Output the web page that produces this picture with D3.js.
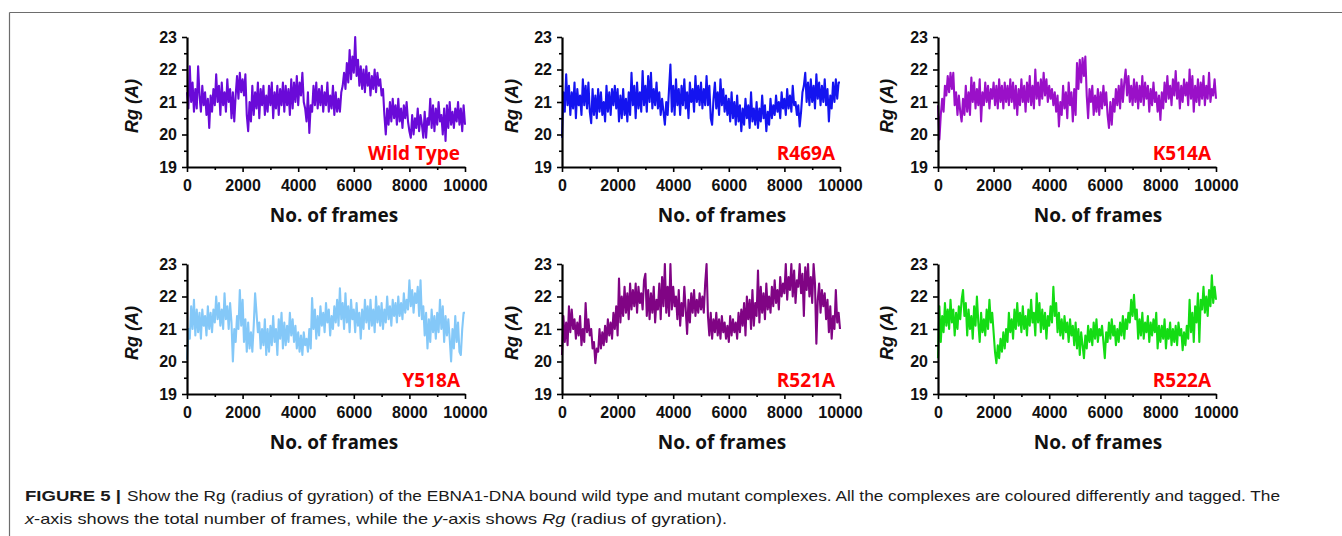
<!DOCTYPE html>
<html>
<head>
<meta charset="utf-8">
<script src="https://cdn.jsdelivr.net/npm/d3@7"></script>
<style>
  body { margin: 0; background: #fff; }
  svg { display: block; }
</style>
</head>
<body>
<script>
// frames sampled every 50 (0..10000)
var frameStep = 50;
var frames = d3.range(0, 10001, frameStep);

var yTicks = [19, 20, 21, 22, 23];
var yMinor = [19.5, 20.5, 21.5, 22.5];
var xTicks = [0, 2000, 4000, 6000, 8000, 10000];
var xMinor = [1000, 3000, 5000, 7000, 9000];

var panelNames = ['Wild Type', 'R469A', 'K514A', 'Y518A', 'R521A', 'R522A'];
var panelColors = ['#6a0ad8', '#1414f0', '#9a10c8', '#84c8f8', '#800484', '#14dc14'];

// Rg values (A)
var rgWild = [
  21.3, 20.8, 22.1, 21.0, 21.6, 20.7, 21.4, 20.8, 22.1, 21.2,
  20.7, 21.5, 20.9, 21.3, 20.6, 21.1, 20.2, 21.2, 20.7, 21.4,
  20.9, 21.85, 21.0, 21.5, 20.6, 21.6, 20.9, 21.3, 20.7, 21.7,
  21.0, 21.4, 20.5, 21.3, 20.4, 21.2, 21.8, 21.1, 21.9, 21.3,
  21.7, 21.2, 21.85, 20.6, 20.1, 21.0, 20.4, 21.5, 20.6, 21.3,
  20.8, 21.6, 20.5, 21.4, 20.9, 21.5, 20.6, 21.2, 20.7, 21.5,
  20.9, 21.6, 20.5, 21.3, 20.8, 21.5, 20.6, 21.4, 20.9, 21.6,
  20.7, 21.5, 20.9, 21.4, 20.6, 21.7, 20.8, 21.6, 21.0, 21.8,
  20.9, 21.6, 21.2, 21.9, 21.0, 20.8, 20.4, 21.3, 20.05, 20.9,
  20.7, 21.5, 20.9, 21.6, 20.8, 21.4, 20.9, 21.5, 20.7, 21.3,
  20.9, 21.6, 20.7, 21.2, 20.8, 21.5, 20.6, 21.3, 20.7, 21.1,
  20.7, 21.3, 21.5, 21.9, 21.4, 22.2, 21.6, 22.6, 21.7, 22.4,
  21.9, 23.0, 21.8, 22.3, 21.5, 22.1, 21.4, 22.0, 21.3, 22.1,
  21.5, 21.9, 21.2, 21.8, 21.4, 22.0, 21.3, 21.9, 21.5, 21.7,
  21.2, 21.4, 20.6, 20.0, 20.8, 20.3, 21.0, 20.4, 21.1, 20.5,
  20.9, 20.3, 21.1, 20.4, 20.8, 20.2, 20.9, 20.5, 21.0, 20.4,
  20.1, 19.9, 20.6, 20.0, 20.5, 20.2, 20.8, 20.1, 20.6, 20.3,
  19.9, 20.7, 19.9, 20.5, 20.3, 21.1, 20.2, 20.9, 20.1, 20.8,
  20.3, 21.0, 20.4, 20.6, 20.0, 20.8, 19.8, 20.9, 20.2, 21.0,
  20.3, 20.7, 20.2, 20.8, 20.4, 21.0, 20.3, 20.8, 20.1, 20.9,
  20.3
];
var rgR469A = [
  19.9, 21.3, 20.7, 21.85, 20.9, 21.5, 20.6, 21.3, 20.8, 21.6,
  20.5, 21.4, 20.9, 21.2, 20.6, 21.7, 20.9, 21.5, 20.8, 21.6,
  20.7, 20.35, 21.4, 20.6, 21.2, 20.5, 21.4, 20.7, 21.3, 20.6,
  21.0, 20.4, 21.5, 20.7, 21.3, 20.6, 21.4, 20.9, 21.5, 20.8,
  21.4, 20.4, 21.2, 20.5, 21.4, 20.6, 21.1, 20.4, 21.3, 20.6,
  21.9, 20.9, 21.5, 20.5, 21.6, 20.8, 21.3, 20.7, 21.95, 20.9,
  21.5, 20.7, 21.8, 21.0, 21.9, 20.8, 21.4, 20.9, 21.6, 20.8,
  21.3, 20.6, 21.1, 20.7, 20.3, 21.0, 20.6, 21.4, 22.15, 20.7,
  21.5, 20.6, 21.7, 20.9, 21.4, 20.6, 21.5, 20.9, 21.7, 20.8,
  21.3, 20.5, 21.6, 21.0, 21.4, 20.7, 21.8, 21.0, 21.5, 20.9,
  21.6, 20.8, 21.4, 20.9, 21.8, 20.9, 21.5, 20.5, 20.3, 21.1,
  21.6, 20.8, 21.3, 20.6, 21.7, 20.9, 21.4, 20.7, 21.2, 20.6,
  21.1, 20.4, 21.3, 20.5, 21.0, 20.3, 21.2, 20.4, 20.9, 20.1,
  20.8, 20.3, 21.1, 20.5, 20.9, 20.2, 21.3, 20.4, 20.8, 20.3,
  21.0, 20.2, 20.8, 20.4, 21.2, 20.5, 20.9, 20.1, 20.7, 20.3,
  21.1, 20.5, 20.9, 20.6, 21.2, 20.7, 21.0, 20.5, 21.3, 20.8,
  21.1, 20.6, 21.4, 20.8, 21.2, 20.7, 21.5, 20.9, 21.0, 20.6,
  20.9, 20.25, 20.7, 21.3, 21.5, 21.9, 21.0, 21.6, 20.9, 21.7,
  21.0, 21.5, 20.8, 21.85, 21.1, 21.6, 20.9, 21.5, 21.0, 21.7,
  20.9, 21.4, 20.4, 21.2, 20.8, 21.6, 21.0, 21.7, 21.1, 21.6,
  21.6
];
var rgK514A = [
  20.9, 19.85, 20.6, 21.1, 20.7, 21.5, 21.2, 21.8, 21.3, 21.9,
  21.4, 21.9, 20.9, 21.3, 20.6, 21.2, 20.7, 20.4, 21.1, 20.6,
  21.5, 20.7, 21.3, 20.6, 21.75, 21.0, 21.6, 20.8, 21.4, 20.9,
  21.7, 20.4, 21.3, 20.9, 21.6, 21.0, 21.5, 20.8, 21.4, 21.1,
  21.6, 20.9, 21.5, 20.8, 21.7, 21.0, 21.5, 20.8, 21.6, 21.0,
  21.5, 20.9, 21.7, 21.0, 21.6, 20.8, 21.5, 20.6, 21.4, 20.9,
  21.7, 21.0, 21.5, 20.7, 21.6, 21.0, 21.8, 20.9, 21.5, 20.8,
  22.0, 21.1, 21.6, 20.9, 21.7, 21.1, 21.9, 21.2, 21.7, 21.0,
  21.5, 21.1, 21.4, 20.9, 21.3, 20.7, 21.2, 20.25, 21.0, 20.6,
  21.5, 20.8, 21.3, 20.5, 21.6, 20.9, 21.3, 20.4, 21.4, 20.6,
  22.2, 21.4, 22.3, 21.6, 22.35, 21.8, 22.4, 21.2, 20.5, 21.4,
  21.0, 21.5, 20.6, 21.2, 20.7, 21.4, 20.6, 21.3, 20.8, 21.5,
  20.9, 21.3, 20.6, 20.2, 21.0, 20.3, 21.1, 20.7, 21.4, 20.9,
  21.5, 20.8, 21.7, 21.0, 21.6, 22.0, 21.2, 21.8, 21.0, 21.5,
  20.9, 21.7, 21.0, 21.6, 20.8, 21.5, 21.0, 21.8, 20.9, 21.6,
  21.1, 21.5, 20.7, 21.4, 20.9, 21.6, 21.0, 21.3, 20.7, 21.2,
  20.45, 21.3, 20.8, 21.6, 21.0, 21.8, 21.1, 21.5, 20.9, 21.7,
  21.2, 21.95, 21.1, 21.6, 20.8, 21.5, 21.0, 21.7, 21.2, 21.6,
  20.9, 22.0, 21.1, 21.8, 20.7, 21.5, 21.0, 21.7, 20.9, 21.6,
  21.1, 21.8, 20.9, 21.5, 21.1, 21.9, 21.0, 21.4, 21.2, 21.7,
  21.1
];
var rgY518A = [
  20.05, 21.0, 20.7, 21.7, 21.0, 21.9, 20.8, 21.6, 20.9, 21.5,
  20.7, 21.6, 21.1, 21.4, 20.8, 21.7, 21.0, 21.5, 20.9, 21.6,
  21.2, 22.0, 21.3, 21.8, 21.1, 21.6, 21.0, 22.1, 21.3, 21.7,
  21.0, 21.8, 21.2, 20.0, 21.0, 20.6, 21.4, 21.0, 22.2, 21.1,
  21.9, 20.6, 21.3, 20.3, 21.2, 20.4, 20.9, 20.3, 21.1, 22.1,
  21.5, 20.9, 21.2, 20.4, 21.0, 20.5, 21.3, 20.2, 21.0, 20.3,
  21.1, 20.5, 21.4, 20.6, 21.0, 20.2, 21.3, 20.7, 21.5, 20.4,
  21.2, 20.5, 21.1, 20.6, 21.5, 20.8, 21.3, 20.6, 21.1, 20.4,
  20.9, 20.3, 20.8, 20.2, 20.9, 20.5, 20.7, 20.3, 21.0, 20.4,
  21.95, 21.0, 21.6, 20.7, 21.4, 20.8, 21.7, 21.1, 21.5, 20.9,
  21.8, 21.2, 21.6, 20.8, 21.4, 21.0, 21.7, 21.2, 21.9, 21.1,
  22.25, 21.3, 21.8, 21.0, 22.1, 21.2, 21.7, 20.9, 21.9, 21.3,
  21.6, 20.9, 21.8, 21.1, 21.5, 20.7, 21.6, 21.0, 21.9, 21.2,
  21.7, 21.0, 21.9, 21.1, 21.6, 20.9, 22.0, 21.2, 21.7, 21.1,
  21.8, 21.0, 21.6, 21.2, 22.0, 21.3, 21.7, 21.1, 21.9, 21.4,
  21.8, 21.2, 22.0, 21.4, 21.8, 21.3, 22.1, 21.5, 21.9, 21.6,
  22.5, 21.7, 22.2, 21.5, 22.1, 21.8, 22.3, 21.4, 22.5, 21.3,
  21.7, 20.8, 21.5, 20.4, 21.3, 20.6, 21.6, 20.9, 21.4, 20.7,
  21.5, 20.9, 21.9, 21.0, 21.7, 20.6, 21.4, 20.8, 21.3, 20.7,
  20.0, 21.0, 20.4, 21.4, 20.6, 21.2, 20.3, 20.2, 21.0, 21.5,
  21.5
];
var rgR521A = [
  20.2, 21.4, 20.6, 21.2, 20.5, 21.7, 20.9, 21.6, 21.0, 21.3,
  20.7, 21.2, 20.8, 21.4, 20.5, 21.0, 20.6, 21.8, 20.9, 21.3,
  20.8, 21.0, 20.4, 20.6, 19.95, 20.4, 20.3, 21.0, 20.4, 20.9,
  20.5, 21.1, 20.6, 21.3, 20.8, 21.2, 20.7, 21.5, 21.0, 21.7,
  20.8, 22.55, 21.2, 22.0, 21.4, 22.3, 21.5, 22.1, 21.3, 22.4,
  21.6, 22.2, 21.7, 22.4, 21.5, 22.3, 21.8, 22.1, 21.6, 22.5,
  22.7, 21.4, 22.2, 21.3, 22.1, 21.5, 22.3, 21.2, 21.9, 21.6,
  22.4, 21.3, 22.6, 21.7, 23.0, 21.5, 22.3, 21.4, 23.0, 21.6,
  22.3, 21.7, 22.0, 21.3, 22.2, 21.1, 21.8, 21.4, 22.3, 21.6,
  20.85, 21.9, 21.2, 22.1, 21.5, 22.2, 21.4, 21.9, 21.5, 22.1,
  21.6, 22.0, 21.5, 22.4, 23.0, 21.4, 20.8, 21.5, 20.7, 21.3,
  20.9, 21.5, 20.8, 21.3, 20.7, 21.4, 20.9, 21.2, 20.7, 21.1,
  20.6, 21.4, 20.8, 21.3, 20.9, 21.2, 20.7, 21.5, 20.9, 21.6,
  21.1, 21.8, 20.8, 22.0, 21.3, 21.9, 21.0, 22.2, 21.1, 21.8,
  21.4, 22.8, 21.2, 22.3, 21.5, 22.1, 21.3, 22.4, 21.6, 22.0,
  21.5, 22.3, 21.7, 22.5, 21.8, 22.2, 21.6, 22.6, 22.0, 22.4,
  22.1, 23.0, 21.9, 22.6, 22.2, 23.0, 22.0, 22.8, 21.8, 22.5,
  22.3, 23.0, 22.1, 22.7, 21.4, 22.9, 22.2, 23.0, 22.0, 22.6,
  21.8, 23.0, 22.4, 20.55, 21.9, 22.4, 21.5, 22.2, 21.7, 22.1,
  21.3, 21.9, 20.9, 21.7, 20.7, 21.4, 21.0, 22.2, 21.2, 21.5,
  21.0
];
var rgR522A = [
  20.1, 21.7, 20.6, 21.4, 20.9, 21.8, 21.1, 21.6, 21.0, 21.9,
  21.2, 21.6, 20.8, 21.5, 21.0, 21.7, 21.3, 21.9, 22.2, 21.4,
  21.8, 20.8, 21.6, 21.0, 21.4, 20.7, 21.7, 21.1, 22.0, 21.2,
  20.6, 21.5, 20.9, 21.3, 20.8, 21.6, 21.0, 21.9, 21.2, 21.5,
  20.9, 20.3, 19.95, 20.5, 20.1, 20.7, 20.3, 20.9, 20.4, 21.0,
  20.6, 21.5, 20.9, 21.3, 20.7, 21.6, 21.0, 21.8, 21.1, 21.5,
  20.9, 21.7, 21.0, 21.4, 20.8, 21.6, 21.1, 21.9, 21.2, 21.5,
  20.8, 22.1, 21.2, 21.8, 20.9, 21.6, 21.0, 21.5, 20.7, 21.4,
  21.1, 21.7, 21.2, 22.3, 21.4, 21.8, 20.9, 21.5, 20.8, 21.3,
  20.7, 21.4, 20.9, 21.2, 20.6, 21.3, 20.8, 21.1, 20.5, 21.2,
  20.4, 21.0, 20.2, 20.9, 20.5, 20.1, 20.8, 20.4, 21.1, 20.6,
  21.0, 20.5, 21.2, 20.7, 21.3, 20.6, 21.0, 20.8, 21.1, 20.6,
  20.1, 20.9, 20.6, 21.2, 20.7, 21.3, 20.8, 21.1, 20.5, 21.0,
  20.6, 21.2, 20.8, 21.4, 20.7, 21.3, 21.0, 21.5, 21.2, 21.9,
  21.4, 22.05, 21.3, 21.6, 20.7, 21.3, 20.8, 21.5, 20.7, 21.2,
  20.9, 21.4, 20.6, 21.2, 20.8, 21.3, 20.9, 21.5, 20.4, 21.1,
  20.6, 21.1, 20.7, 21.3, 20.4, 21.0, 20.7, 21.2, 20.5, 21.0,
  20.6, 21.1, 20.5, 21.2, 20.8, 21.0, 20.35, 20.9, 20.5, 21.1,
  20.7, 21.9, 20.9, 21.5, 20.6, 21.7, 21.2, 22.1, 20.6, 21.9,
  21.6, 22.3, 21.5, 22.0, 21.4, 22.2, 21.7, 22.65, 21.8, 22.3,
  21.9
];

var panelSeries = [rgWild, rgR469A, rgK514A, rgY518A, rgR521A, rgR522A];

var width = 1342, height = 536;
var colLeft = [187, 562, 938];
var rowTop = [37, 264];
var plotW = 278, plotH = 130;
var xLabelShift = [8, 21, 21];
var yLabelX = [132, 512, 887];

var svg = d3.select("body").append("svg")
  .attr("width", width)
  .attr("height", height);

svg.append("rect").attr("width", width).attr("height", height).style("fill", "#ffffff");

// figure frame (top rule + left rule)
svg.append("line")
  .attr("x1", 9.5).attr("y1", 12.5).attr("x2", width).attr("y2", 12.5)
  .style("stroke", "#6d6d6d").style("stroke-width", 1.2);
svg.append("line")
  .attr("x1", 9.5).attr("y1", 12.5).attr("x2", 9.5).attr("y2", height)
  .style("stroke", "#6d6d6d").style("stroke-width", 1.2);

panelSeries.forEach(function(series, i) {
  var col = i % 3, row = Math.floor(i / 3);
  var x0 = colLeft[col], y0 = rowTop[row];

  var x = d3.scaleLinear().domain([0, 10000]).range([x0, x0 + plotW]);
  var y = d3.scaleLinear().domain([19, 23]).range([y0 + plotH, y0]);

  var line = d3.line()
    .x(function(d, j) { return x(frames[j]); })
    .y(function(d) { return y(d); });

  var g = svg.append("g");

  g.append("path")
    .datum(series)
    .attr("d", line)
    .style("fill", "none")
    .style("stroke", panelColors[i])
    .style("stroke-width", 2.1)
    .style("stroke-linejoin", "round");

  // y axis, major + minor
  g.append("g").attr("transform", "translate(" + x0 + ",0)")
    .call(d3.axisLeft(y).tickValues(yTicks).tickFormat(d3.format("d"))
      .tickSize(5).tickSizeOuter(0).tickPadding(5));
  g.append("g").attr("transform", "translate(" + x0 + ",0)")
    .call(d3.axisLeft(y).tickValues(yMinor).tickSize(3).tickSizeOuter(0).tickFormat(""))
    .select(".domain").remove();

  // x axis, major + minor
  g.append("g").attr("transform", "translate(0," + (y0 + plotH) + ")")
    .call(d3.axisBottom(x).tickValues(xTicks).tickFormat(d3.format("d"))
      .tickSize(5).tickSizeOuter(0).tickPadding(8));
  g.append("g").attr("transform", "translate(0," + (y0 + plotH) + ")")
    .call(d3.axisBottom(x).tickValues(xMinor).tickSize(3).tickSizeOuter(0).tickFormat(""))
    .select(".domain").remove();

  g.selectAll(".domain").style("stroke", "#000").style("stroke-width", 2.2);
  g.selectAll(".tick line").style("stroke", "#000").style("stroke-width", 1.6);
  g.selectAll(".tick text")
    .style("font-family", "'Liberation Sans', Arial, sans-serif")
    .style("font-weight", "bold")
    .style("font-size", "16px")
    .style("fill", "#111");

  // axis titles
  g.append("text")
    .attr("x", (x0 + x0 + plotW) / 2 + xLabelShift[col])
    .attr("y", y0 + plotH + 55)
    .attr("text-anchor", "middle")
    .style("font-family", "'Open Sans', sans-serif")
    .style("font-weight", "bold")
    .style("font-size", "19px")
    .style("fill", "#111")
    .text("No. of frames");

  g.append("text")
    .attr("transform", "translate(" + (yLabelX[col] + 6) + "," + (y0 + plotH / 2 + 4) + ") rotate(-90)")
    .attr("text-anchor", "middle")
    .style("font-family", "'Liberation Sans', Arial, sans-serif")
    .style("font-weight", "bold")
    .style("font-style", "italic")
    .style("font-size", "18px")
    .style("fill", "#111")
    .text("Rg (A)");

  // red tag
  g.append("text")
    .attr("x", x0 + plotW - 5)
    .attr("y", y0 + plotH - 7)
    .attr("text-anchor", "end")
    .style("font-family", "'Open Sans', sans-serif")
    .style("font-weight", "bold")
    .style("font-size", "19px")
    .style("fill", "#ff0000")
    .text(panelNames[i]);
});

// caption
var cap = svg.append("g")
  .style("font-family", "'Liberation Sans', Arial, sans-serif")
  .style("font-size", "15px")
  .style("fill", "#1a1a1a");

cap.append("text")
  .attr("x", 25).attr("y", 501)
  .attr("textLength", 96).attr("lengthAdjust", "spacingAndGlyphs")
  .style("font-weight", "bold")
  .text("FIGURE 5 |");
cap.append("text")
  .attr("x", 127).attr("y", 501)
  .attr("textLength", 1153).attr("lengthAdjust", "spacingAndGlyphs")
  .text("Show the Rg (radius of gyration) of the EBNA1-DNA bound wild type and mutant complexes. All the complexes are coloured differently and tagged. The");

var line2 = cap.append("text")
  .attr("x", 25).attr("y", 524)
  .attr("textLength", 702).attr("lengthAdjust", "spacingAndGlyphs");
line2.append("tspan").style("font-style", "italic").text("x");
line2.append("tspan").text("-axis shows the total number of frames, while the ");
line2.append("tspan").style("font-style", "italic").text("y");
line2.append("tspan").text("-axis shows ");
line2.append("tspan").style("font-style", "italic").text("Rg");
line2.append("tspan").text(" (radius of gyration).");
</script>
</body>
</html>
